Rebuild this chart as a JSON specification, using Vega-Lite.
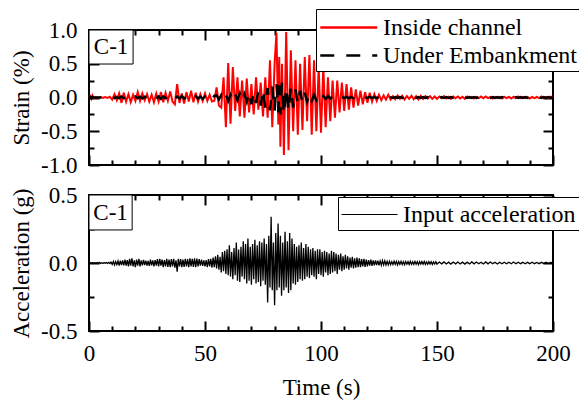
{
"$schema":"https://vega.github.io/schema/vega-lite/v6.json",
"padding":{"left":9,"top":7,"right":0,"bottom":0},
"config":{"font":"Liberation Serif, Times New Roman, serif","view":{"stroke":"black","strokeWidth":2},
"text":{"font":"Liberation Serif, Times New Roman, serif"},
"legend":{"labelFont":"Liberation Serif, Times New Roman, serif"},
"axis":{"labelFont":"Liberation Serif, Times New Roman, serif","titleFont":"Liberation Serif, Times New Roman, serif","labelFontSize":23,"titleFontSize":23,"titleFontWeight":"normal","labelColor":"black","titleColor":"black","tickColor":"black","tickWidth":2,"domain":false,"grid":false,"labelOverlap":false,"labelFlush":false,"labelBound":false}},
"datasets":{
"strain":[
{"t":0,"s":0,"u":0},{"t":0.5,"s":0.02,"u":0.01},{"t":1,"s":-0.02,"u":-0.01},{"t":1.5,"s":0.03,"u":0.01},{"t":2,"s":-0.01,"u":0},{"t":3,"s":0.005,"u":0},{"t":4,"s":-0.005,"u":0},{"t":5,"s":0.005,"u":0},{"t":6,"s":-0.005,"u":0},{"t":7,"s":0.005,"u":0},{"t":8,"s":-0.005,"u":0},{"t":9,"s":0.01,"u":0},
{"t":10,"s":-0.03,"u":0.01},{"t":11,"s":0.05,"u":-0.01},{"t":12,"s":-0.04,"u":0.01},{"t":13,"s":0.06,"u":-0.01},{"t":14,"s":-0.08,"u":0.015},{"t":15,"s":0.07,"u":-0.01},{"t":16,"s":-0.06,"u":0.01},{"t":17,"s":0.05,"u":-0.015},{"t":18,"s":-0.07,"u":0.01},{"t":19,"s":0.04,"u":-0.01},
{"t":20,"s":-0.05,"u":0.015},{"t":21,"s":0.08,"u":-0.01},{"t":22,"s":-0.05,"u":0.01},{"t":23,"s":0.06,"u":-0.015},{"t":24,"s":-0.04,"u":0.01},{"t":25,"s":0.05,"u":-0.01},{"t":26,"s":-0.06,"u":0.015},{"t":27,"s":0.04,"u":-0.01},{"t":28,"s":-0.07,"u":0.01},{"t":29,"s":0.06,"u":-0.015},
{"t":30,"s":-0.06,"u":0.015},{"t":31,"s":0.08,"u":-0.02},{"t":32,"s":-0.07,"u":0.015},{"t":33,"s":0.07,"u":-0.01},{"t":34,"s":-0.05,"u":0.02},{"t":35,"s":0.09,"u":-0.015},{"t":36,"s":-0.06,"u":0.01},{"t":37,"s":-0.1,"u":-0.02},{"t":38,"s":0.2,"u":0.015},{"t":39,"s":-0.08,"u":-0.015},
{"t":40,"s":0.06,"u":0.02},{"t":41,"s":-0.09,"u":-0.015},{"t":42,"s":0.08,"u":0.01},{"t":43,"s":-0.06,"u":-0.02},{"t":44,"s":0.1,"u":0.015},{"t":45,"s":-0.07,"u":-0.01},{"t":46,"s":0.07,"u":0.02},{"t":47,"s":-0.06,"u":-0.015},{"t":48,"s":0.05,"u":0.01},{"t":49,"s":-0.05,"u":-0.02},
{"t":50,"s":0.06,"u":0.015},{"t":51,"s":-0.05,"u":-0.02},{"t":52,"s":0.04,"u":0.02},{"t":53,"s":-0.06,"u":-0.02},{"t":54,"s":-0.05,"u":0.025},{"t":55,"s":0.15,"u":0.03},{"t":56,"s":-0.12,"u":-0.03},{"t":57,"s":-0.15,"u":0.035},{"t":58,"s":0.3,"u":-0.04},{"t":59,"s":-0.44,"u":0.04},
{"t":60,"s":0.51,"u":-0.05},{"t":61,"s":-0.39,"u":0.04},{"t":62,"s":0.45,"u":-0.045},{"t":63,"s":-0.2,"u":0.05},{"t":64,"s":0.3,"u":-0.04},{"t":65,"s":-0.28,"u":0.06},{"t":66,"s":0.25,"u":-0.05},{"t":67,"s":-0.3,"u":0.05},{"t":68,"s":0.28,"u":-0.06},{"t":69,"s":-0.22,"u":0.08},
{"t":70,"s":0.2,"u":-0.1},{"t":71,"s":-0.25,"u":0.08},{"t":72,"s":0.3,"u":-0.08},{"t":73,"s":-0.18,"u":0.1},{"t":74,"s":0.22,"u":-0.12},{"t":75,"s":-0.28,"u":0.12},{"t":76,"s":0.3,"u":-0.15},{"t":77,"s":-0.3,"u":0.14},{"t":78,"s":0.55,"u":-0.19},{"t":79,"s":-0.44,"u":0.16},
{"t":80,"s":0.5,"u":-0.2},{"t":80.8,"s":0.96,"u":0.2},{"t":81.6,"s":-0.4,"u":-0.22},{"t":82,"s":0.6,"u":0.18},{"t":82.5,"s":-0.73,"u":-0.25},{"t":83.2,"s":0.5,"u":0.22},{"t":84,"s":-0.85,"u":-0.25},{"t":85,"s":0.97,"u":0.15},{"t":86,"s":-0.78,"u":-0.2},{"t":87,"s":0.7,"u":0.15},{"t":88,"s":-0.5,"u":-0.15},{"t":89,"s":0.55,"u":0.12},
{"t":90,"s":-0.55,"u":-0.1},{"t":91,"s":0.5,"u":0.1},{"t":92,"s":-0.48,"u":-0.08},{"t":93,"s":0.6,"u":0.07},{"t":94,"s":-0.35,"u":-0.06},{"t":95,"s":0.63,"u":0.06},{"t":96,"s":-0.55,"u":-0.05},{"t":97,"s":0.55,"u":0.04},{"t":98,"s":-0.5,"u":-0.04},{"t":99,"s":0.45,"u":0.03},
{"t":100,"s":-0.52,"u":-0.03},{"t":101,"s":0.45,"u":0.02},{"t":102,"s":-0.44,"u":-0.02},{"t":103,"s":0.3,"u":0.02},{"t":104,"s":-0.35,"u":-0.015},{"t":105,"s":0.25,"u":0.015},{"t":106,"s":-0.3,"u":-0.01},{"t":107,"s":0.25,"u":0.015},{"t":108,"s":-0.22,"u":-0.01},{"t":109,"s":0.22,"u":0.01},
{"t":110,"s":-0.2,"u":-0.01},{"t":111,"s":0.2,"u":0.01},{"t":112,"s":-0.18,"u":-0.01},{"t":113,"s":0.15,"u":0.005},{"t":114,"s":-0.15,"u":-0.01},{"t":115,"s":0.12,"u":0.01},{"t":116,"s":-0.12,"u":-0.005},{"t":117,"s":0.1,"u":0.01},{"t":118,"s":-0.1,"u":-0.005},{"t":119,"s":0.08,"u":0.005},
{"t":120,"s":-0.08,"u":-0.005},{"t":121,"s":0.07,"u":0.01},{"t":122,"s":-0.06,"u":-0.005},{"t":123,"s":0.05,"u":0.005},{"t":124,"s":-0.05,"u":-0.005},{"t":125,"s":0.04,"u":0.005},{"t":126,"s":-0.04,"u":-0.005},{"t":127,"s":0.03,"u":0.005},{"t":128,"s":-0.03,"u":-0.005},{"t":129,"s":0.04,"u":0.005},
{"t":130,"s":-0.03,"u":0.005},{"t":131,"s":0.02,"u":-0.005},{"t":132,"s":-0.025,"u":0.005},{"t":133,"s":0.03,"u":-0.005},{"t":134,"s":-0.02,"u":0.005},{"t":135,"s":0.025,"u":-0.005},{"t":136,"s":-0.03,"u":0.005},{"t":137,"s":0.02,"u":-0.005},{"t":138,"s":-0.02,"u":0.005},{"t":139,"s":0.025,"u":-0.005},
{"t":140,"s":-0.025,"u":0.005},{"t":141,"s":0.02,"u":-0.005},{"t":142,"s":-0.03,"u":0.005},{"t":143,"s":0.025,"u":-0.005},{"t":144,"s":-0.02,"u":0.005},{"t":145,"s":0.02,"u":-0.005},{"t":146,"s":-0.015,"u":0.005},{"t":147,"s":0.02,"u":-0.005},{"t":148,"s":-0.02,"u":0.005},{"t":149,"s":0.015,"u":-0.005},
{"t":150,"s":-0.02,"u":0.005},{"t":151,"s":0.015,"u":-0.005},{"t":152,"s":-0.01,"u":0.005},{"t":153,"s":0.02,"u":-0.005},{"t":154,"s":-0.015,"u":0.005},{"t":155,"s":0.01,"u":-0.005},{"t":156,"s":-0.02,"u":0.005},{"t":157,"s":0.015,"u":-0.005},{"t":158,"s":-0.01,"u":0.005},{"t":159,"s":0.015,"u":-0.005},
{"t":160,"s":-0.015,"u":0.005},{"t":161,"s":0.01,"u":-0.005},{"t":162,"s":-0.02,"u":0.005},{"t":163,"s":0.015,"u":-0.005},{"t":164,"s":-0.01,"u":0.005},{"t":165,"s":0.01,"u":-0.005},{"t":166,"s":-0.015,"u":0.005},{"t":167,"s":0.01,"u":-0.005},{"t":168,"s":-0.01,"u":0.005},{"t":169,"s":0.015,"u":-0.005},
{"t":170,"s":-0.01,"u":0.005},{"t":171,"s":0.015,"u":-0.005},{"t":172,"s":-0.01,"u":0.005},{"t":173,"s":0.01,"u":-0.005},{"t":174,"s":-0.015,"u":0.005},{"t":175,"s":0.01,"u":-0.005},{"t":176,"s":-0.01,"u":0.005},{"t":177,"s":0.01,"u":-0.005},{"t":178,"s":-0.015,"u":0.005},{"t":179,"s":0.01,"u":-0.005},
{"t":180,"s":-0.01,"u":0.005},{"t":181,"s":0.01,"u":-0.005},{"t":182,"s":-0.015,"u":0.005},{"t":183,"s":0.01,"u":-0.005},{"t":184,"s":-0.01,"u":0.005},{"t":185,"s":0.015,"u":-0.005},{"t":186,"s":-0.01,"u":0.005},{"t":187,"s":0.01,"u":-0.005},{"t":188,"s":-0.01,"u":0.005},{"t":189,"s":0.01,"u":-0.005},
{"t":190,"s":-0.015,"u":0.005},{"t":191,"s":0.01,"u":-0.005},{"t":192,"s":-0.01,"u":0.005},{"t":193,"s":0.01,"u":-0.005},{"t":194,"s":-0.01,"u":0.005},{"t":195,"s":0.015,"u":-0.005},{"t":196,"s":-0.01,"u":0.005},{"t":197,"s":0.01,"u":-0.005},{"t":198,"s":-0.01,"u":0.005},{"t":199,"s":0.01,"u":-0.005},{"t":200,"s":0.01,"u":0}
],
"accel":[
{"t":0,"a":0},{"t":0.5,"a":0.003},{"t":1,"a":-0.002},{"t":1.5,"a":0.002},{"t":2,"a":-0.003},{"t":2.5,"a":0.002},{"t":3,"a":-0.002},{"t":3.5,"a":0.003},{"t":4,"a":-0.003},{"t":4.5,"a":0.004},
{"t":5,"a":-0.003},{"t":5.5,"a":0.002},{"t":6,"a":-0.004},{"t":6.5,"a":0.003},{"t":7,"a":-0.002},{"t":7.5,"a":0.004},{"t":8,"a":-0.003},{"t":8.5,"a":0.005},{"t":9,"a":-0.004},{"t":9.5,"a":0.006},
{"t":10,"a":-0.01},{"t":10.5,"a":0.012},{"t":11,"a":-0.015},{"t":11.5,"a":0.01},{"t":12,"a":-0.012},{"t":12.5,"a":0.015},{"t":13,"a":-0.02},{"t":13.5,"a":0.018},{"t":14,"a":-0.015},{"t":14.5,"a":0.02},
{"t":15,"a":-0.018},{"t":15.5,"a":0.025},{"t":16,"a":-0.02},{"t":16.5,"a":0.022},{"t":17,"a":-0.025},{"t":17.5,"a":0.03},{"t":18,"a":-0.02},{"t":18.5,"a":0.035},{"t":19,"a":-0.025},{"t":19.5,"a":0.02},
{"t":20,"a":-0.03},{"t":20.5,"a":0.025},{"t":21,"a":-0.02},{"t":21.5,"a":0.03},{"t":22,"a":-0.025},{"t":22.5,"a":0.02},{"t":23,"a":-0.018},{"t":23.5,"a":0.022},{"t":24,"a":-0.015},{"t":24.5,"a":0.018},
{"t":25,"a":-0.02},{"t":25.5,"a":0.015},{"t":26,"a":-0.022},{"t":26.5,"a":0.025},{"t":27,"a":-0.018},{"t":27.5,"a":0.02},{"t":28,"a":-0.025},{"t":28.5,"a":0.022},{"t":29,"a":-0.02},{"t":29.5,"a":0.028},
{"t":30,"a":-0.025},{"t":30.5,"a":0.03},{"t":31,"a":-0.02},{"t":31.5,"a":0.025},{"t":32,"a":-0.03},{"t":32.5,"a":0.022},{"t":33,"a":-0.025},{"t":33.5,"a":0.03},{"t":34,"a":-0.028},{"t":34.5,"a":0.025},
{"t":35,"a":-0.03},{"t":35.5,"a":0.028},{"t":36,"a":-0.025},{"t":36.5,"a":0.03},{"t":37,"a":-0.035},{"t":37.5,"a":0.02},{"t":38,"a":-0.064},{"t":38.5,"a":0.03},{"t":39,"a":-0.025},{"t":39.5,"a":0.028},
{"t":40,"a":-0.03},{"t":40.5,"a":0.025},{"t":41,"a":-0.028},{"t":41.5,"a":0.03},{"t":42,"a":-0.025},{"t":42.5,"a":0.028},{"t":43,"a":-0.03},{"t":43.5,"a":0.035},{"t":44,"a":-0.025},{"t":44.5,"a":0.03},
{"t":45,"a":-0.028},{"t":45.5,"a":0.035},{"t":46,"a":-0.03},{"t":46.5,"a":0.032},{"t":47,"a":-0.025},{"t":47.5,"a":0.028},{"t":48,"a":-0.02},{"t":48.5,"a":0.025},{"t":49,"a":-0.022},{"t":49.5,"a":0.02},
{"t":50,"a":-0.025},{"t":50.5,"a":0.022},{"t":51,"a":-0.03},{"t":51.5,"a":0.028},{"t":52,"a":-0.025},{"t":52.5,"a":0.03},{"t":53,"a":-0.035},{"t":53.5,"a":0.04},{"t":54,"a":-0.03},{"t":54.5,"a":0.05},
{"t":55,"a":-0.04},{"t":55.5,"a":0.06},{"t":56,"a":-0.05},{"t":56.5,"a":0.045},{"t":57,"a":-0.07},{"t":57.5,"a":0.08},{"t":58,"a":-0.06},{"t":58.5,"a":0.09},{"t":59,"a":-0.08},{"t":59.5,"a":0.1},
{"t":60,"a":-0.09},{"t":60.5,"a":0.13},{"t":61,"a":-0.1},{"t":61.5,"a":0.08},{"t":62,"a":-0.12},{"t":62.5,"a":0.11},{"t":63,"a":-0.09},{"t":63.5,"a":0.15},{"t":64,"a":-0.13},{"t":64.5,"a":0.1},
{"t":65,"a":-0.14},{"t":65.5,"a":0.12},{"t":66,"a":-0.1},{"t":66.5,"a":0.16},{"t":67,"a":-0.12},{"t":67.5,"a":0.14},{"t":68,"a":-0.15},{"t":68.5,"a":0.18},{"t":69,"a":-0.13},{"t":69.5,"a":0.12},
{"t":70,"a":-0.16},{"t":70.5,"a":0.14},{"t":71,"a":-0.12},{"t":71.5,"a":0.17},{"t":72,"a":-0.15},{"t":72.5,"a":0.13},{"t":73,"a":-0.14},{"t":73.5,"a":0.16},{"t":74,"a":-0.17},{"t":74.5,"a":0.15},
{"t":75,"a":-0.13},{"t":75.5,"a":0.18},{"t":76,"a":-0.16},{"t":76.5,"a":0.14},{"t":77,"a":-0.29},{"t":77.5,"a":0.2},{"t":78,"a":-0.18},{"t":78.5,"a":0.34},{"t":79,"a":-0.2},{"t":79.5,"a":0.15},
{"t":80,"a":-0.31},{"t":80.5,"a":0.22},{"t":81,"a":-0.2},{"t":81.5,"a":0.29},{"t":82,"a":-0.18},{"t":82.5,"a":0.2},{"t":83,"a":-0.24},{"t":83.5,"a":0.15},{"t":84,"a":-0.2},{"t":84.5,"a":0.23},
{"t":85,"a":-0.18},{"t":85.5,"a":0.16},{"t":86,"a":-0.22},{"t":86.5,"a":0.22},{"t":87,"a":-0.2},{"t":87.5,"a":0.18},{"t":88,"a":-0.15},{"t":88.5,"a":0.14},{"t":89,"a":-0.16},{"t":89.5,"a":0.12},
{"t":90,"a":-0.14},{"t":90.5,"a":0.13},{"t":91,"a":-0.12},{"t":91.5,"a":0.15},{"t":92,"a":-0.13},{"t":92.5,"a":0.11},{"t":93,"a":-0.12},{"t":93.5,"a":0.14},{"t":94,"a":-0.1},{"t":94.5,"a":0.12},
{"t":95,"a":-0.11},{"t":95.5,"a":0.1},{"t":96,"a":-0.09},{"t":96.5,"a":0.11},{"t":97,"a":-0.1},{"t":97.5,"a":0.09},{"t":98,"a":-0.12},{"t":98.5,"a":0.1},{"t":99,"a":-0.08},{"t":99.5,"a":0.1},
{"t":100,"a":-0.09},{"t":100.5,"a":0.08},{"t":101,"a":-0.1},{"t":101.5,"a":0.09},{"t":102,"a":-0.07},{"t":102.5,"a":0.08},{"t":103,"a":-0.09},{"t":103.5,"a":0.07},{"t":104,"a":-0.08},{"t":104.5,"a":0.09},
{"t":105,"a":-0.07},{"t":105.5,"a":0.08},{"t":106,"a":-0.06},{"t":106.5,"a":0.07},{"t":107,"a":-0.08},{"t":107.5,"a":0.06},{"t":108,"a":-0.05},{"t":108.5,"a":0.07},{"t":109,"a":-0.06},{"t":109.5,"a":0.05},
{"t":110,"a":-0.05},{"t":110.5,"a":0.06},{"t":111,"a":-0.04},{"t":111.5,"a":0.05},{"t":112,"a":-0.05},{"t":112.5,"a":0.04},{"t":113,"a":-0.035},{"t":113.5,"a":0.045},{"t":114,"a":-0.04},{"t":114.5,"a":0.035},
{"t":115,"a":-0.035},{"t":115.5,"a":0.04},{"t":116,"a":-0.03},{"t":116.5,"a":0.035},{"t":117,"a":-0.03},{"t":117.5,"a":0.028},{"t":118,"a":-0.025},{"t":118.5,"a":0.03},{"t":119,"a":-0.028},{"t":119.5,"a":0.025},
{"t":120,"a":-0.025},{"t":120.5,"a":0.022},{"t":121,"a":-0.02},{"t":121.5,"a":0.025},{"t":122,"a":-0.022},{"t":122.5,"a":0.02},{"t":123,"a":-0.018},{"t":123.5,"a":0.02},{"t":124,"a":-0.015},{"t":124.5,"a":0.018},
{"t":125,"a":-0.018},{"t":125.5,"a":0.015},{"t":126,"a":-0.016},{"t":126.5,"a":0.018},{"t":127,"a":-0.014},{"t":127.5,"a":0.016},{"t":128,"a":-0.015},{"t":128.5,"a":0.012},{"t":129,"a":-0.014},{"t":129.5,"a":0.013},
{"t":130,"a":-0.012},{"t":130.5,"a":0.01},{"t":131,"a":-0.011},{"t":131.5,"a":0.013},{"t":132,"a":-0.01},{"t":132.5,"a":0.012},{"t":133,"a":-0.014},{"t":133.5,"a":0.011},{"t":134,"a":-0.01},{"t":134.5,"a":0.012},
{"t":135,"a":-0.011},{"t":135.5,"a":0.01},{"t":136,"a":-0.012},{"t":136.5,"a":0.011},{"t":137,"a":-0.009},{"t":137.5,"a":0.01},{"t":138,"a":-0.011},{"t":138.5,"a":0.012},{"t":139,"a":-0.01},{"t":139.5,"a":0.009},
{"t":140,"a":-0.01},{"t":140.5,"a":0.011},{"t":141,"a":-0.009},{"t":141.5,"a":0.01},{"t":142,"a":-0.012},{"t":142.5,"a":0.01},{"t":143,"a":-0.008},{"t":143.5,"a":0.01},{"t":144,"a":-0.009},{"t":144.5,"a":0.011},
{"t":145,"a":-0.01},{"t":145.5,"a":0.008},{"t":146,"a":-0.009},{"t":146.5,"a":0.01},{"t":147,"a":-0.008},{"t":147.5,"a":0.009},{"t":148,"a":-0.01},{"t":148.5,"a":0.008},{"t":149,"a":-0.007},{"t":149.5,"a":0.009},
{"t":150,"a":-0.008},{"t":151,"a":0.007},{"t":152,"a":-0.006},{"t":153,"a":0.008},{"t":154,"a":-0.007},{"t":155,"a":0.006},{"t":156,"a":-0.008},{"t":157,"a":0.007},{"t":158,"a":-0.006},{"t":159,"a":0.007},
{"t":160,"a":-0.007},{"t":161,"a":0.006},{"t":162,"a":-0.008},{"t":163,"a":0.006},{"t":164,"a":-0.007},{"t":165,"a":0.008},{"t":166,"a":-0.006},{"t":167,"a":0.007},{"t":168,"a":-0.006},{"t":169,"a":0.006},
{"t":170,"a":-0.007},{"t":171,"a":0.008},{"t":172,"a":-0.006},{"t":173,"a":0.007},{"t":174,"a":-0.006},{"t":175,"a":0.006},{"t":176,"a":-0.007},{"t":177,"a":0.006},{"t":178,"a":-0.005},{"t":179,"a":0.006},
{"t":180,"a":-0.006},{"t":181,"a":0.005},{"t":182,"a":-0.006},{"t":183,"a":0.007},{"t":184,"a":-0.005},{"t":185,"a":0.006},{"t":186,"a":-0.005},{"t":187,"a":0.005},{"t":188,"a":-0.006},{"t":189,"a":0.005},
{"t":190,"a":-0.005},{"t":191,"a":0.006},{"t":192,"a":-0.005},{"t":193,"a":0.004},{"t":194,"a":-0.005},{"t":195,"a":0.005},{"t":196,"a":-0.004},{"t":197,"a":0.005},{"t":198,"a":-0.004},{"t":199,"a":0.004},{"t":200,"a":0}
]
},
"vconcat":[
{
"width":464,"height":135,
"layer":[
{"data":{"name":"strain"},"transform":[{"fold":["s","u"],"as":["series","v"]},{"filter":"datum.series === 's'"}],
"mark":{"type":"line","strokeWidth":2},
"encoding":{
"x":{"field":"t","type":"quantitative","scale":{"domain":[0,200],"nice":false},"axis":{"orient":"bottom","values":[0,10,20,30,40,50,60,70,80,90,100,110,120,130,140,150,160,170,180,190,200],"labels":false,"title":null,"tickSize":{"condition":{"test":"datum.value % 50 === 0","value":-10},"value":-5}}},
"y":{"field":"v","type":"quantitative","scale":{"domain":[-1,1],"nice":false},"axis":{"orient":"left","values":[-1,-0.75,-0.5,-0.25,0,0.25,0.5,0.75,1],"title":"Strain (%)","titlePadding":7,"labelPadding":22,"labelExpr":"datum.value % 0.5 === 0 ? replace(format(datum.value,'.1f'),'\u2212','-') : ''","tickSize":{"condition":{"test":"datum.value % 0.5 === 0","value":-10},"value":-5}}},
"color":{"field":"series","type":"nominal","scale":{"domain":["s","u"],"range":["#ff0000","#000000"]},"legend":{"orient":"none","legendX":227,"legendY":-21,"title":null,"strokeColor":"black","fillColor":"white","padding":3,"labelFontSize":24,"labelColor":"black","labelLimit":400,"symbolType":"M-1,0H3","symbolSize":812,"symbolStrokeWidth":2.5,"labelOffset":33,"rowPadding":0,"labelExpr":"datum.value === 's' ? 'Inside channel' : 'Under Embankment'"}},
"strokeDash":{"field":"series","type":"nominal","scale":{"domain":["s","u"],"range":[[1,0],[14,12]]},"legend":{"orient":"none","legendX":227,"legendY":-21,"title":null,"strokeColor":"black","fillColor":"white","padding":3,"labelFontSize":24,"labelColor":"black","labelLimit":400,"symbolType":"M-1,0H3","symbolSize":812,"symbolStrokeWidth":2.5,"labelOffset":33,"rowPadding":0,"labelExpr":"datum.value === 's' ? 'Inside channel' : 'Under Embankment'"}}
}},
{"data":{"name":"strain"},"transform":[{"fold":["s","u"],"as":["series","v"]},{"filter":"datum.series === 'u'"}],
"mark":{"type":"line","strokeWidth":2.5},
"encoding":{
"x":{"field":"t","type":"quantitative","axis":{"orient":"top","values":[0,10,20,30,40,50,60,70,80,90,100,110,120,130,140,150,160,170,180,190,200],"labels":false,"title":null,"tickSize":{"condition":{"test":"datum.value % 50 === 0","value":-10},"value":-5}}},
"y":{"field":"v","type":"quantitative","axis":{"orient":"right","values":[-1,-0.75,-0.5,-0.25,0,0.25,0.5,0.75,1],"labels":false,"title":null,"tickSize":{"condition":{"test":"datum.value % 0.5 === 0","value":-10},"value":-5}}},
"color":{"field":"series","type":"nominal"},
"strokeDash":{"field":"series","type":"nominal"}
}},
{"data":{"values":[{"x0":0,"x1":19,"y0":1,"y1":0.496}]},
"mark":{"type":"rect","fill":"white","stroke":"black","strokeWidth":1},
"encoding":{"x":{"field":"x0","type":"quantitative","axis":null},"x2":{"field":"x1"},"y":{"field":"y0","type":"quantitative","axis":null},"y2":{"field":"y1"}}},
{"data":{"values":[{"tx":9.5,"ty":0.748,"label":"C-1"}]},
"mark":{"type":"text","fontSize":23,"align":"center","baseline":"middle","color":"black"},
"encoding":{"x":{"field":"tx","type":"quantitative","axis":null},"y":{"field":"ty","type":"quantitative","axis":null},"text":{"field":"label"}}}
],
"resolve":{"axis":{"x":"independent","y":"independent"}}
},
{
"width":464,"height":136,
"layer":[
{"data":{"name":"accel"},
"mark":{"type":"line","strokeWidth":1.3},
"encoding":{
"x":{"field":"t","type":"quantitative","scale":{"domain":[0,200],"nice":false},"axis":{"orient":"bottom","values":[0,10,20,30,40,50,60,70,80,90,100,110,120,130,140,150,160,170,180,190,200],"title":"Time (s)","titlePadding":6,"labelPadding":21,"labelExpr":"datum.value % 50 === 0 ? datum.label : ''","tickSize":{"condition":{"test":"datum.value % 50 === 0","value":-10},"value":-5}}},
"y":{"field":"a","type":"quantitative","scale":{"domain":[-0.5,0.5],"nice":false},"axis":{"orient":"left","values":[-0.5,-0.25,0,0.25,0.5],"title":"Acceleration (g)","titlePadding":7,"labelPadding":22,"labelExpr":"datum.value % 0.5 === 0 ? replace(format(datum.value,'.1f'),'\u2212','-') : ''","tickSize":{"condition":{"test":"datum.value % 0.5 === 0","value":-10},"value":-5}}},
"color":{"datum":"Input acceleration","scale":{"range":["#000000"]},"legend":{"orient":"none","legendX":249,"legendY":2,"title":null,"strokeColor":"black","fillColor":"white","padding":3,"labelFontSize":24,"labelColor":"black","labelLimit":400,"symbolType":"M-1,0H3","symbolSize":784,"symbolStrokeWidth":1,"labelOffset":33}}
}},
{"data":{"values":[{"x0":0,"x1":18.6,"y0":0.5,"y1":0.243}]},
"mark":{"type":"rect","fill":"white","stroke":"black","strokeWidth":1},
"encoding":{"x":{"field":"x0","type":"quantitative","axis":{"orient":"top","values":[0,10,20,30,40,50,60,70,80,90,100,110,120,130,140,150,160,170,180,190,200],"labels":false,"title":null,"tickSize":{"condition":{"test":"datum.value % 50 === 0","value":-10},"value":-5}}},"x2":{"field":"x1"},
"y":{"field":"y0","type":"quantitative","axis":{"orient":"right","values":[-0.5,-0.25,0,0.25,0.5],"labels":false,"title":null,"tickSize":{"condition":{"test":"datum.value % 0.5 === 0","value":-10},"value":-5}}},"y2":{"field":"y1"}}},
{"data":{"values":[{"tx":9.3,"ty":0.371,"label":"C-1"}]},
"mark":{"type":"text","fontSize":23,"align":"center","baseline":"middle","color":"black"},
"encoding":{"x":{"field":"tx","type":"quantitative","axis":null},"y":{"field":"ty","type":"quantitative","axis":null},"text":{"field":"label"}}}
],
"resolve":{"axis":{"x":"independent","y":"independent"}}
}
],
"spacing":5,
"resolve":{"scale":{"color":"independent","strokeDash":"independent"}}
}
